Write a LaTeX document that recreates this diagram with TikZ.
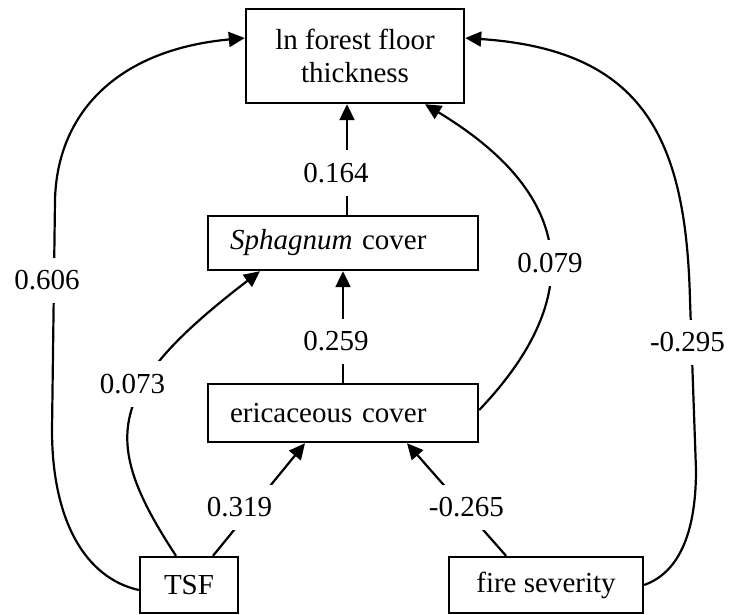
\documentclass[tikz,border=0pt]{standalone}
\usepackage{fontspec}
\setmainfont{Liberation Serif}
\usetikzlibrary{positioning, arrows.meta}

\begin{document}
\begin{tikzpicture}[x=1pt, y=-1pt, line width=2.2pt,
  every node/.style={font=\fontsize{29}{33}\selectfont},
  box/.style={draw, rectangle, line width=2.4pt, inner sep=0pt},
  lbl/.style={fill=white, inner xsep=2pt, inner ysep=13pt},
  arr/.style={-{Triangle[length=16pt, width=15pt]}}]
  \useasboundingbox (0,0) rectangle (729,614);

  % Nodes
  \node[box, minimum width=218pt, minimum height=94pt, align=center] (floor) at (355,56) {ln forest floor\\thickness};
  \node[box, minimum height=54pt, text width=226pt, inner xsep=22pt, align=left] (sphag) at (343,243) {\textit{Sphagnum} cover};
  \node[box, minimum height=58pt, text width=226pt, inner xsep=22pt, align=left] (eric) at (343,413) {ericaceous cover};
  \node[box, minimum width=98pt, minimum height=56pt] (tsf) at (189,585) {TSF};
  \node[box, minimum width=194pt, minimum height=56pt] (fire) at (546,585) {fire severity};

  % Arrows
  \draw[arr] ([xshift=4pt]sphag.north) -- node[lbl, pos=0.38, xshift=-11pt] {0.164} ([xshift=4pt]sphag.north |- floor.south);
  \draw[arr] (eric) -- node[lbl, pos=0.37, xshift=-7pt] {0.259} (sphag);
  \draw[arr] ([xshift=24pt]tsf.north) -- node[lbl, pos=0.43, xshift=-13pt] {0.319} ([xshift=-38pt]eric.south);
  \draw[arr] ([xshift=-40pt]fire.north) -- node[lbl, pos=0.43, xshift=3pt] {-0.265} ([xshift=64pt]eric.south);
  \draw[arr] ([xshift=-13pt]tsf.north) .. controls (100,440) and (105,390) .. node[lbl, pos=0.62, xshift=-12pt] {0.073} ([xshift=-83pt]sphag.south);
  \draw[arr] ([yshift=3pt]eric.east) .. controls (565,320) and (600,210) .. node[lbl, pos=0.5] {0.079} ([xshift=70pt]floor.south);
  \draw[arr] ([yshift=-5pt]tsf.west) .. controls (85,578) and (52,520) .. (52,430)
    -- node[lbl, pos=0.65, xshift=-7pt] {0.606} (55,200)
    .. controls (57,115) and (115,50) .. ([yshift=18pt]floor.west);
  \draw[arr] (fire.east) .. controls (672,575) and (696,545) .. (696,470)
    -- node[lbl, pos=0.75, xshift=-4pt] {-0.295} (690,300)
    .. controls (686,140) and (645,50) .. ([yshift=18pt]floor.east);
\end{tikzpicture}
\end{document}
